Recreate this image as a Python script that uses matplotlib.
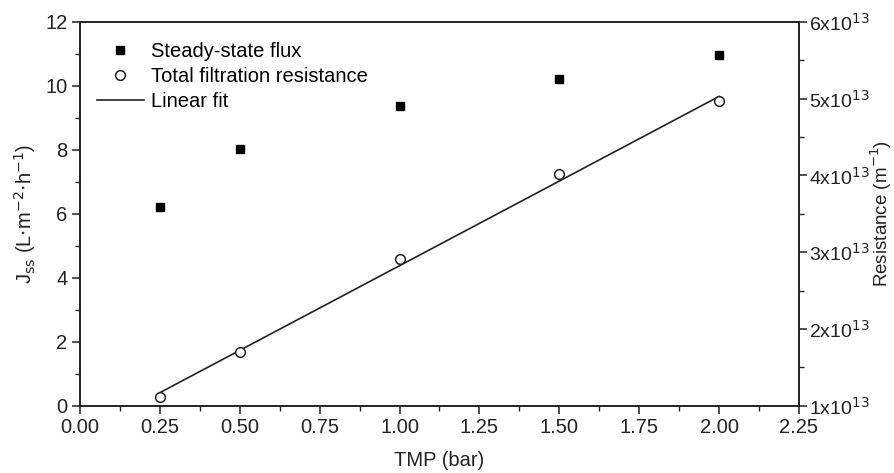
import matplotlib.pyplot as plt
from matplotlib.ticker import MultipleLocator, FuncFormatter

plt.rcParams["font.family"] = ["Liberation Sans", "DejaVu Sans"]

# values
tmp_bar = [0.25, 0.5, 1.0, 1.5, 2.0]
flux = [6.22, 8.02, 9.37, 10.22, 10.98]
resistance = [1.11e13, 1.70e13, 2.915e13, 4.02e13, 4.965e13]
fit_x = [0.25, 2.0]
fit_y = [1.17e13, 5.03e13]

ink = "#222222"
fs = 14.5

fig = plt.figure(figsize=(8.95, 4.73), dpi=100)
ax = fig.add_axes([0.0894, 0.1423, 0.8033, 0.8112])
ax2 = ax.twinx()

ax.plot(tmp_bar, flux, "s", color="black", markersize=6, label="Steady-state flux")
ax2.plot(tmp_bar, resistance, "o", markerfacecolor="white", markeredgecolor=ink,
         markeredgewidth=1.1, markersize=7, label="Total filtration resistance", zorder=3)
ax2.plot(fit_x, fit_y, "-", color=ink, linewidth=1.2, label="Linear fit", zorder=2)

ax.set_xlim(0, 2.25)
ax.set_ylim(0, 12)
ax2.set_ylim(1e13, 6e13)

ax.xaxis.set_major_locator(MultipleLocator(0.25))
ax.xaxis.set_minor_locator(MultipleLocator(0.125))
ax.yaxis.set_major_locator(MultipleLocator(2))
ax.yaxis.set_minor_locator(MultipleLocator(1))
ax2.yaxis.set_major_locator(MultipleLocator(1e13))
ax2.yaxis.set_minor_locator(MultipleLocator(0.5e13))
ax.xaxis.set_major_formatter(FuncFormatter(lambda v, p: f"{v:.2f}"))
ax2.yaxis.set_major_formatter(FuncFormatter(lambda v, p: rf"{v / 1e13:.0f}x10$^{{13}}$"))

for a in (ax, ax2):
    for s in a.spines.values():
        s.set_color(ink)
        s.set_linewidth(1.2)
    a.tick_params(which="major", direction="out", length=6, width=1.1, colors=ink,
                  labelsize=fs, labelcolor=ink, pad=3)
    a.tick_params(which="minor", direction="out", length=3.5, width=1.0, colors=ink)
ax.tick_params(axis="x", which="both", top=False)
ax2.tick_params(axis="y", which="major", labelsize=14, pad=1)

ax.set_xlabel("TMP (bar)", fontsize=fs, color=ink, labelpad=10)
ax.set_ylabel(r"J$_{\rm ss}$ (L$\cdot$m$^{-2}$$\cdot$h$^{-1}$)", fontsize=fs, color=ink, labelpad=5)
ax2.set_ylabel(r"Resistance (m$^{-1}$)", fontsize=13.5, color=ink)
ax2.yaxis.set_label_coords(1.097, 0.5)

h1, l1 = ax.get_legend_handles_labels()
h2, l2 = ax2.get_legend_handles_labels()
ax2.legend(h1 + h2, l1 + l2, loc="upper left", frameon=False, fontsize=fs,
           bbox_to_anchor=(0.024, 0.947), handlelength=2.3, handletextpad=0.35,
           labelspacing=0.3, borderaxespad=0, borderpad=0)

fig.savefig("out.png", dpi=100)
